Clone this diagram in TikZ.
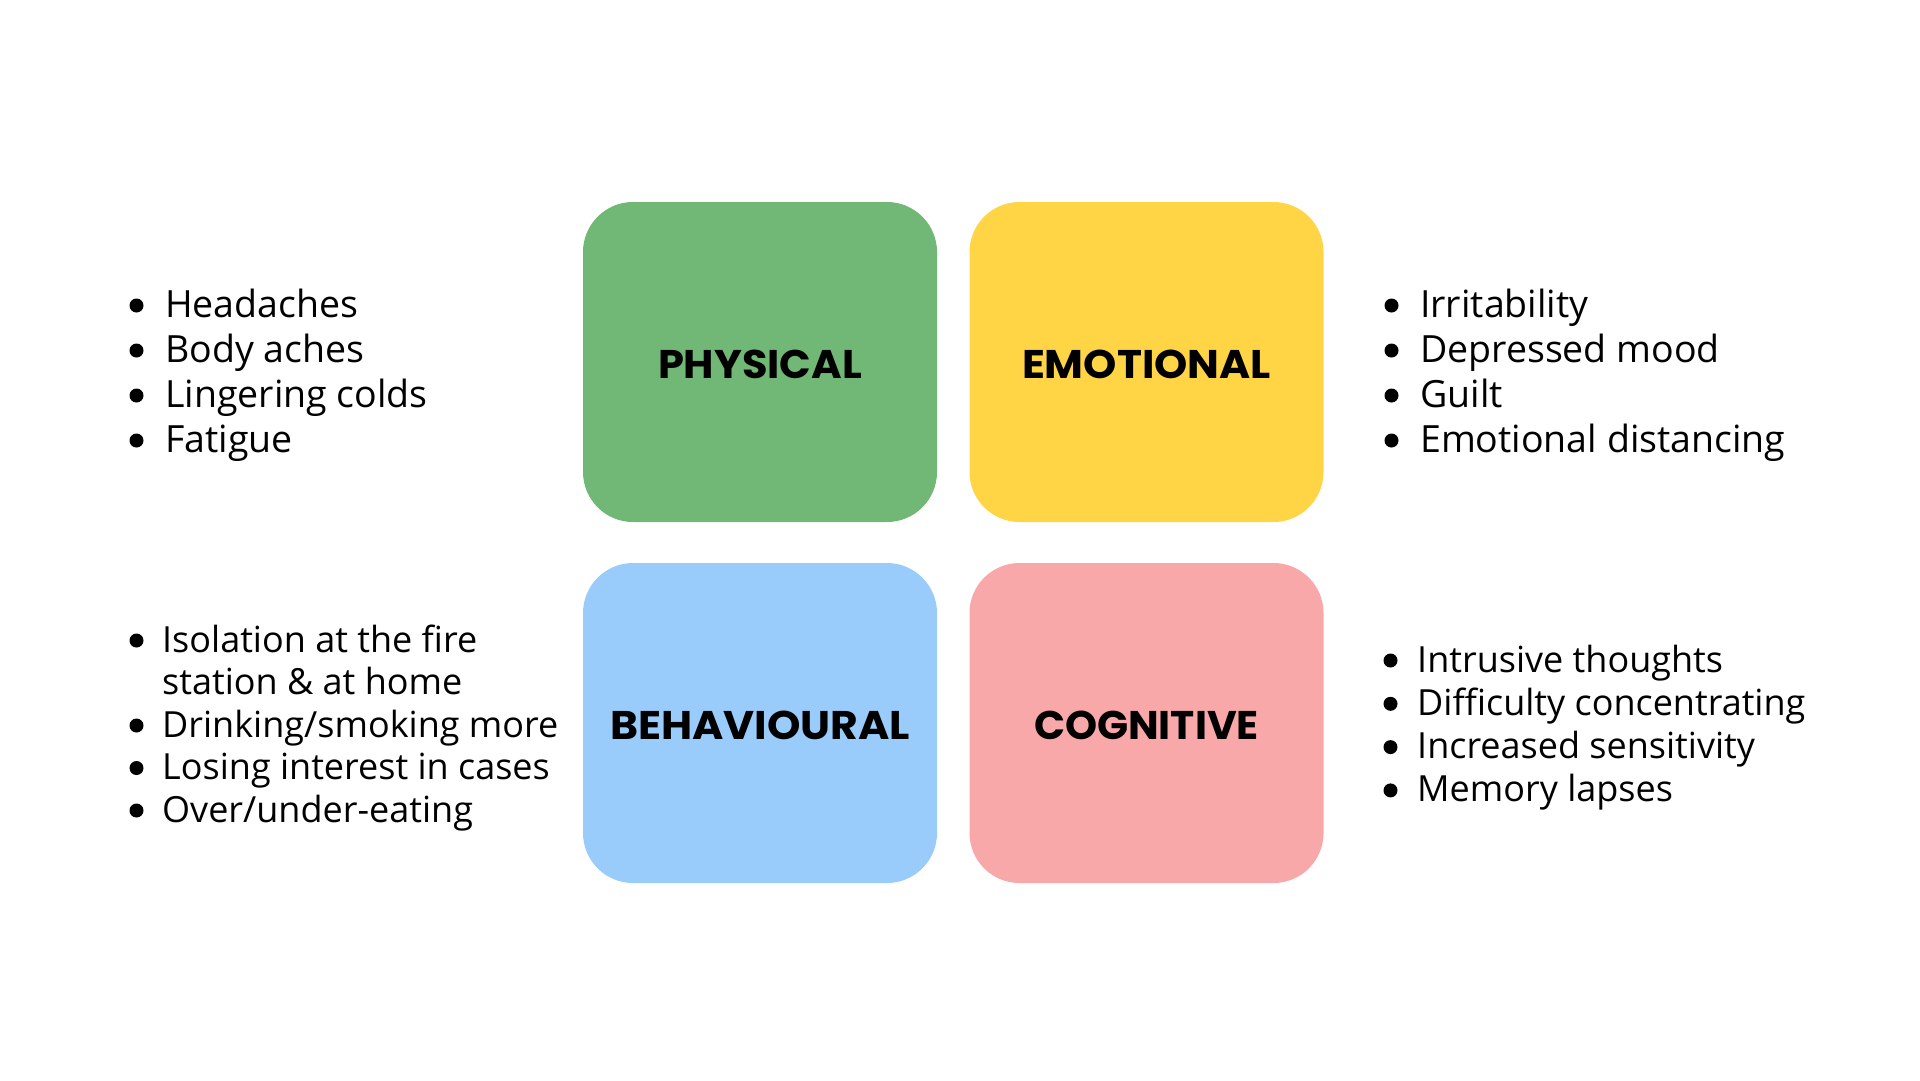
\documentclass[tikz,border=0pt]{standalone}
\usepackage{fontspec}
\usepackage{graphicx}
\setmainfont{Open Sans}
\newfontfamily\labelfont{Poppins}
\definecolor{cgreen}{RGB}{113,183,117}
\definecolor{cyellow}{RGB}{255,213,70}
\definecolor{cblue}{RGB}{153,204,250}
\definecolor{cpink}{RGB}{248,168,169}
\newcommand\lab[2]{\resizebox{#1}{\height}{#2}}
\tikzset{
  quad/.style={rounded corners=50pt, minimum width=354pt, minimum height=320pt, inner sep=0pt, draw=none},
  qlabel/.style={font=\labelfont\bfseries\fontsize{40}{40}\selectfont, text=black, inner sep=0pt},
  blist/.style={anchor=base west, inner sep=0pt, align=left},
  bdot/.style={fill=black},
}
\begin{document}
\begin{tikzpicture}[x=1pt,y=-1pt]
\fill[white] (0,0) rectangle (1920,1080);
\useasboundingbox (0,0) rectangle (1920,1080);
% boxes
\node[quad, fill=cgreen]  (phys) at (760,362) {};
\node[quad, fill=cyellow] (emo)  at (1146.5,362) {};
\node[quad, fill=cblue]   (beh)  at (760,723) {};
\node[quad, fill=cpink]   (cog)  at (1146.5,723) {};
\node[qlabel] (physL) at ([yshift=-2pt]phys.center) {\lab{204pt}{PHYSICAL}};
\node[qlabel] (emoL)  at ([yshift=-2pt]emo.center)  {\lab{249pt}{EMOTIONAL}};
\node[qlabel] (behL)  at ([yshift=-2pt]beh.center)  {\lab{300pt}{BEHAVIOURAL}};
\node[qlabel] (cogL)  at ([yshift=-2pt]cog.center)  {\lab{225pt}{COGNITIVE}};
% lists
\node[blist] (listA) at (165,317.5) {\fontsize{37.5}{45}\selectfont\begin{tabular}[t]{@{}l@{}}
Headaches\\
Body aches\\
Lingering colds\\
Fatigue
\end{tabular}};
\node[blist] (listB) at (162,652) {\fontsize{36}{42.5}\selectfont\begin{tabular}[t]{@{}l@{}}
Isolation at the fire\\
station \& at home\\
Drinking/smoking more\\
Losing interest in cases\\
Over/under-eating
\end{tabular}};
\node[blist] (listC) at (1420,317.5) {\fontsize{37.5}{45}\selectfont\begin{tabular}[t]{@{}l@{}}
Irritability\\
Depressed mood\\
Guilt\\
Emotional distancing
\end{tabular}};
\node[blist] (listD) at (1417,672) {\fontsize{36}{43.3}\selectfont\begin{tabular}[t]{@{}l@{}}
Intrusive thoughts\\
Difficulty concentrating\\
Increased sensitivity\\
Memory lapses
\end{tabular}};
% bullets
\foreach \i in {0,1,2,3}
  \fill[bdot] ([shift={(-28.5,-12+45*\i)}]listA.base west) circle (7);
\foreach \i in {0,2,3,4}
  \fill[bdot] ([shift={(-25.5,-11.5+42.5*\i)}]listB.base west) circle (7);
\foreach \i in {0,1,2,3}
  \fill[bdot] ([shift={(-28.5,-12+45*\i)}]listC.base west) circle (7);
\foreach \i in {0,1,2,3}
  \fill[bdot] ([shift={(-26.5,-11.5+43.3*\i)}]listD.base west) circle (7);
\end{tikzpicture}
\end{document}
